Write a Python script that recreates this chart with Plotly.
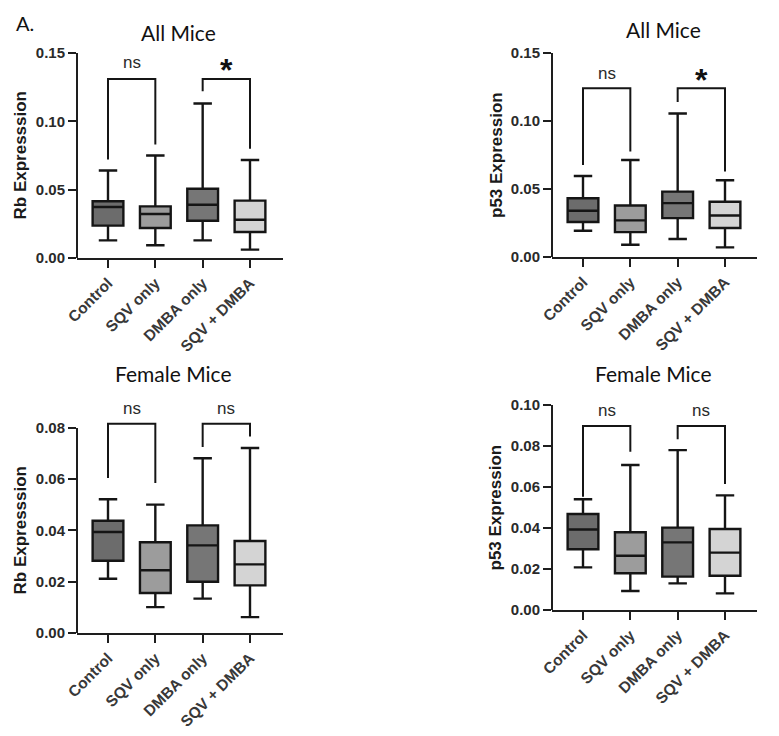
import plotly.graph_objects as go

W, H = 779, 736
OFF = 8  # page body margin of the browser shifts the figure by this many px

categories = ["Control", "SQV only", "DMBA only", "SQV + DMBA"]
box_colors = ["#6c6c6c", "#9c9c9c", "#767676", "#d4d4d4"]

# ---- data ----
rb_all_lower = [0.0129, 0.0093, 0.0129, 0.0061]
rb_all_q1 = [0.0237, 0.0220, 0.0273, 0.0190]
rb_all_median = [0.0373, 0.0322, 0.0390, 0.0280]
rb_all_q3 = [0.0415, 0.0378, 0.0507, 0.0420]
rb_all_upper = [0.0640, 0.0750, 0.1130, 0.0717]

p53_all_lower = [0.0193, 0.0090, 0.0132, 0.0071]
p53_all_q1 = [0.0257, 0.0183, 0.0286, 0.0213]
p53_all_median = [0.0340, 0.0269, 0.0396, 0.0305]
p53_all_q3 = [0.0432, 0.0379, 0.0481, 0.0406]
p53_all_upper = [0.0596, 0.0713, 0.1055, 0.0564]

rb_fem_lower = [0.0212, 0.0101, 0.0134, 0.0062]
rb_fem_q1 = [0.0282, 0.0156, 0.0200, 0.0186]
rb_fem_median = [0.0394, 0.0245, 0.0342, 0.0268]
rb_fem_q3 = [0.0438, 0.0354, 0.0420, 0.0359]
rb_fem_upper = [0.0522, 0.0501, 0.0682, 0.0722]

p53_fem_lower = [0.0208, 0.0093, 0.0130, 0.0081]
p53_fem_q1 = [0.0296, 0.0179, 0.0163, 0.0167]
p53_fem_median = [0.0393, 0.0265, 0.0330, 0.0280]
p53_fem_q3 = [0.0468, 0.0379, 0.0402, 0.0395]
p53_fem_upper = [0.0540, 0.0707, 0.0780, 0.0559]

# brackets: (group i, group j, bar height, left leg end, right leg end, label, label y)
rb_all_brackets = [(0, 1, 0.131, 0.072, 0.083, "ns", 0.1427),
                   (2, 3, 0.131, 0.122, 0.080, "*", 0.1375)]
p53_all_brackets = [(0, 1, 0.124, 0.0677, 0.0775, "ns", 0.1350),
                    (2, 3, 0.124, 0.114, 0.0628, "*", 0.1305)]
rb_fem_brackets = [(0, 1, 0.0817, 0.0605, 0.0585, "ns", 0.0878),
                   (2, 3, 0.0817, 0.0726, 0.0767, "ns", 0.0878)]
p53_fem_brackets = [(0, 1, 0.0898, 0.0553, 0.0772, "ns", 0.0972),
                    (2, 3, 0.0898, 0.0833, 0.0615, "ns", 0.0972)]

panels = [
    dict(title="All Mice", ytitle="Rb Expresssion", lower=rb_all_lower, q1=rb_all_q1,
         med=rb_all_median, q3=rb_all_q3, upper=rb_all_upper, br=rb_all_brackets,
         ymax=0.15, dtick=0.05, rtop=0.155,
         px_left=77, px_right=283, px_cat0=108, px_cat3=250, px_y0=258, px_ymax=53,
         title_xy=(178, 32), ytitle_x=20),
    dict(title="All Mice", ytitle="p53 Expression", lower=p53_all_lower, q1=p53_all_q1,
         med=p53_all_median, q3=p53_all_q3, upper=p53_all_upper, br=p53_all_brackets,
         ymax=0.15, dtick=0.05, rtop=0.155,
         px_left=552, px_right=757, px_cat0=583, px_cat3=725, px_y0=257, px_ymax=53,
         title_xy=(663, 29), ytitle_x=497),
    dict(title="Female Mice", ytitle="Rb Expresssion", lower=rb_fem_lower, q1=rb_fem_q1,
         med=rb_fem_median, q3=rb_fem_q3, upper=rb_fem_upper, br=rb_fem_brackets,
         ymax=0.08, dtick=0.02, rtop=0.093,
         px_left=77, px_right=283, px_cat0=108, px_cat3=250, px_y0=633, px_ymax=428,
         title_xy=(173, 374), ytitle_x=20),
    dict(title="Female Mice", ytitle="p53 Expression", lower=p53_fem_lower, q1=p53_fem_q1,
         med=p53_fem_median, q3=p53_fem_q3, upper=p53_fem_upper, br=p53_fem_brackets,
         ymax=0.10, dtick=0.02, rtop=0.104,
         px_left=552, px_right=757, px_cat0=583, px_cat3=725, px_y0=610, px_ymax=405,
         title_xy=(653, 373), ytitle_x=495),
]

AX_COLOR = "#1e1e1e"
LINE_COLOR = "#151515"
SANS = "Liberation Sans, Arial, sans-serif"
YTICK_FONT = dict(family=SANS, size=15, color="#2a2a2a", weight="bold")
XTICK_FONT = dict(family=SANS, size=15.5, color="#383838", weight="bold")


def fx(px):
    return (px - OFF) / W


def fy(px):
    return 1 - (px - OFF) / H


fig = go.Figure()
layout = dict(width=W, height=H, margin=dict(l=0, r=0, t=0, b=0, pad=0, autoexpand=False),
              paper_bgcolor="white", plot_bgcolor="white", showlegend=False,
              boxmode="overlay", annotations=[], shapes=[])

for k, p in enumerate(panels):
    n = "" if k == 0 else str(k + 1)
    xa, ya = "x" + n, "y" + n
    step = (p["px_cat3"] - p["px_cat0"]) / 3.0
    xr = [(p["px_left"] - p["px_cat0"]) / step, (p["px_right"] - p["px_cat0"]) / step]
    xdom = [fx(p["px_left"]), fx(p["px_right"])]
    kpx = (p["px_y0"] - p["px_ymax"]) / p["ymax"]
    top_px = p["px_y0"] - kpx * p["rtop"]
    ydom = [fy(p["px_y0"]), fy(top_px)]

    for i, c in enumerate(categories):
        fig.add_trace(go.Box(
            x=[c], q1=[p["q1"][i]], median=[p["med"][i]], q3=[p["q3"][i]],
            lowerfence=[p["lower"][i]], upperfence=[p["upper"][i]],
            fillcolor=box_colors[i], line=dict(color=LINE_COLOR, width=2.4),
            width=0.65, whiskerwidth=0.6, boxpoints=False, hoverinfo="skip",
            xaxis=xa, yaxis=ya))

    for (i, j, h, le, re, lab, ly) in p["br"]:
        fig.add_trace(go.Scatter(
            x=[categories[i], categories[i], categories[j], categories[j]],
            y=[le, h, h, re], mode="lines",
            line=dict(color=LINE_COLOR, width=2), hoverinfo="skip",
            xaxis=xa, yaxis=ya))
        xc = (i + j) / 2.0
        if lab == "*":
            font = dict(family=SANS, size=32, color="#111", weight="bold")
        else:
            font = dict(family=SANS, size=17, color="#2a2a2a")
        layout["annotations"].append(dict(
            x=xc, y=ly, xref=xa, yref=ya, text=lab, showarrow=False,
            font=font, xanchor="center", yanchor="middle"))

    tickvals = [round(t * p["dtick"], 4) for t in range(int(round(p["ymax"] / p["dtick"])) + 1)]
    layout["xaxis" + n] = dict(
        domain=xdom, range=xr, type="category", categoryorder="array",
        categoryarray=categories, anchor=ya, showline=True, linecolor=AX_COLOR,
        linewidth=2, ticks="outside", ticklen=8, tickwidth=2, tickcolor=AX_COLOR,
        tickangle=-45, tickfont=XTICK_FONT, showgrid=False, zeroline=False,
        fixedrange=True, automargin=False)
    layout["yaxis" + n] = dict(
        domain=ydom, range=[0, p["rtop"]], anchor=xa, showline=False,
        tickmode="array", tickvals=tickvals,
        ticktext=[f"{t:.2f}" for t in tickvals],
        ticks="outside", ticklen=8, tickwidth=2, tickcolor=AX_COLOR,
        tickfont=YTICK_FONT, showgrid=False, zeroline=False, fixedrange=True,
        automargin=False)
    layout["shapes"].append(dict(
        type="line", xref="paper", yref=ya, x0=xdom[0], x1=xdom[0], y0=0, y1=p["ymax"],
        line=dict(color=AX_COLOR, width=2)))
    layout["annotations"].append(dict(
        x=fx(p["ytitle_x"]), y=p["ymax"] / 2, xref="paper", yref=ya,
        text=p["ytitle"], textangle=-90, showarrow=False,
        font=dict(family=SANS, size=17, color="#1a1a1a", weight="bold"),
        xanchor="center", yanchor="middle"))
    layout["annotations"].append(dict(
        x=fx(p["title_xy"][0]), y=fy(p["title_xy"][1]), xref="paper", yref="paper",
        text=p["title"], showarrow=False,
        font=dict(family="Lato, Carlito, sans-serif", size=21, color="#111"),
        xanchor="center", yanchor="middle"))

layout["annotations"].append(dict(
    x=fx(25), y=fy(23), xref="paper", yref="paper", text="A.", showarrow=False,
    font=dict(family="Lato, Carlito, sans-serif", size=20, color="#111"),
    xanchor="center", yanchor="middle"))

fig.update_layout(**layout)
fig.write_html("out.html")
